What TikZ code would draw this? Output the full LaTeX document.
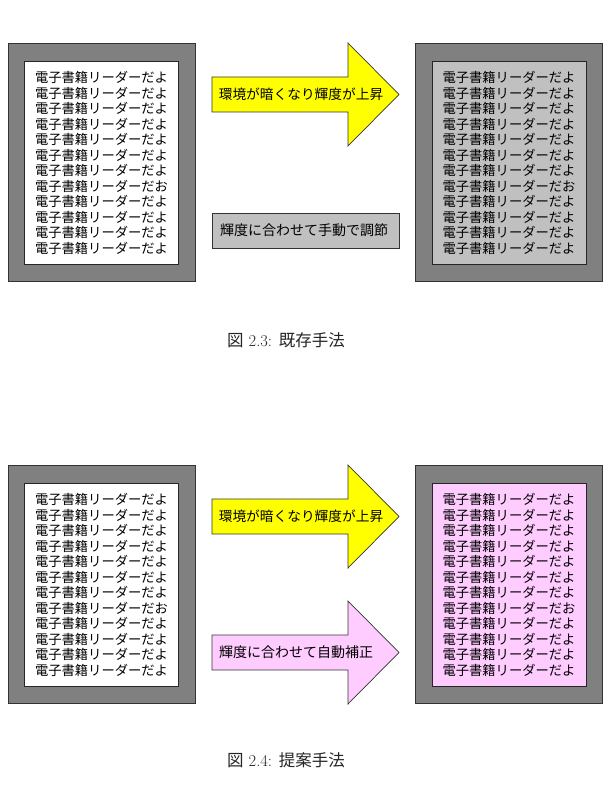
\documentclass[tikz,border=0pt]{standalone}
\usepackage{fontspec}
\newfontfamily\jp{Noto Sans CJK JP}
\definecolor{bezelgray}{RGB}{128,128,128}
\definecolor{lightgray}{RGB}{192,192,192}
\definecolor{arrowyellow}{RGB}{255,255,0}
\definecolor{softpink}{RGB}{255,204,255}
\newcommand\ebooklines{電子書籍リーダーだよ\\電子書籍リーダーだよ\\電子書籍リーダーだよ\\電子書籍リーダーだよ\\電子書籍リーダーだよ\\電子書籍リーダーだよ\\電子書籍リーダーだよ\\電子書籍リーダーだお\\電子書籍リーダーだよ\\電子書籍リーダーだよ\\電子書籍リーダーだよ\\電子書籍リーダーだよ}
\begin{document}
\begin{tikzpicture}[x=1pt,y=-1pt,
  bezel/.style={draw=black!80,fill=bezelgray,line width=0.8pt,minimum width=187pt,minimum height=238pt,inner sep=0pt},
  screen/.style={draw=black!85,line width=0.8pt,minimum width=154pt,minimum height=203pt,inner sep=0pt},
  ebook/.style={font=\jp\fontsize{13.3}{15.5}\selectfont,align=center,inner sep=0pt,text=black},
  blockarrow/.style={draw=black!80,line width=0.7pt},
  lbl/.style={font=\jp\fontsize{13.7}{16}\selectfont,inner sep=0pt},
  manualbox/.style={draw=black!80,fill=lightgray,line width=0.7pt,minimum width=187pt,minimum height=35pt,inner sep=0pt},
  figcap/.style={font=\fontsize{16.5}{18}\selectfont,inner sep=0pt,text=black!85}]

\useasboundingbox[fill=white] (0,0) rectangle (608,786);

% ---------- Figure 2.3 ----------
\begin{scope}[name prefix=a-]
  \node[bezel] (lbezel) at (101.5,162) {};
  \node[screen,fill=white] (lscreen) at (101,162.5) {};
  \node[ebook] (ltext) at (101.5,163) {\ebooklines};
  \node[bezel] (rbezel) at (509,162) {};
  \node[screen,fill=lightgray] (rscreen) at (509,162.5) {};
  \node[ebook] (rtext) at (509,163) {\ebooklines};
  \draw[blockarrow,fill=arrowyellow] (212,77) -- (348,77) -- (348,43) -- (399,94.5) -- (348,146) -- (348,112) -- (212,112) -- cycle;
  \node[lbl] (brighter) at (301,94.5) {環境が暗くなり輝度が上昇};
  \node[manualbox] (manual) at (305.5,230.5) {};
  \node[lbl,font=\jp\fontsize{14}{16}\selectfont] (manualtext) at (304,230.5) {輝度に合わせて手動で調節};
  \node[figcap] (cap) at (286,340) {{\jp 図} 2.3: {\jp 既存手法}};
\end{scope}

% ---------- Figure 2.4 ----------
\begin{scope}[name prefix=b-,shift={(0,422)}]
  \node[bezel] (lbezel) at (101.5,162) {};
  \node[screen,fill=white] (lscreen) at (101,162.5) {};
  \node[ebook] (ltext) at (101.5,163) {\ebooklines};
  \node[bezel] (rbezel) at (509,162) {};
  \node[screen,fill=softpink] (rscreen) at (509,162.5) {};
  \node[ebook] (rtext) at (509,163) {\ebooklines};
  \draw[blockarrow,fill=arrowyellow] (212,77) -- (348,77) -- (348,43) -- (399,94.5) -- (348,146) -- (348,112) -- (212,112) -- cycle;
  \node[lbl] (brighter) at (301,94.5) {環境が暗くなり輝度が上昇};
  \draw[blockarrow,fill=softpink] (212,213) -- (348,213) -- (348,179) -- (399,230.5) -- (348,282) -- (348,248) -- (212,248) -- cycle;
  \node[lbl,font=\jp\fontsize{14}{16}\selectfont] (autotext) at (296,230.5) {輝度に合わせて自動補正};
  \node[figcap] (cap) at (286,338) {{\jp 図} 2.4: {\jp 提案手法}};
\end{scope}
\end{tikzpicture}
\end{document}
